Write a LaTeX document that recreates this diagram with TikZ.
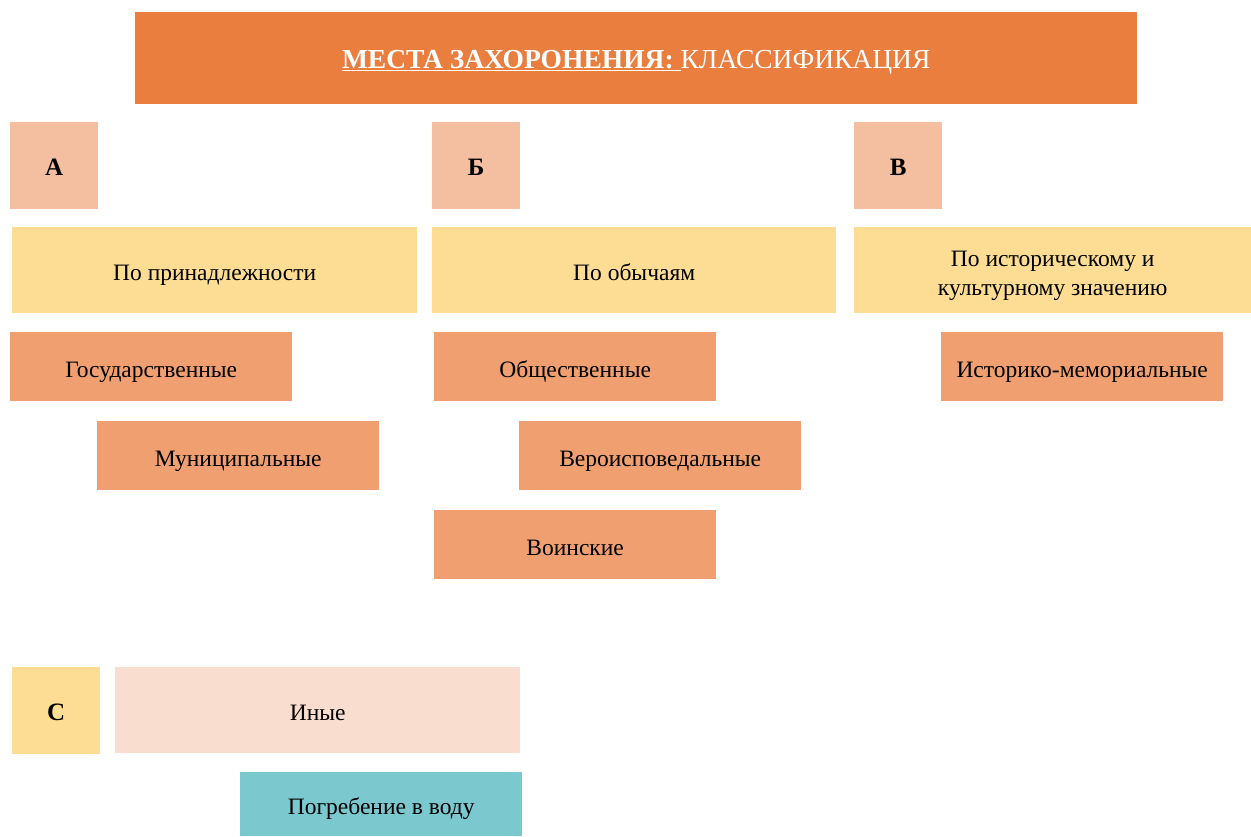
\documentclass[tikz,border=0pt]{standalone}
\usepackage{fontspec}
\setmainfont{Liberation Serif}

\definecolor{titleorange}{RGB}{233,126,62}
\definecolor{letterpink}{RGB}{244,190,160}
\definecolor{groupyellow}{RGB}{253,220,147}
\definecolor{typeorange}{RGB}{240,160,112}
\definecolor{otherpink}{RGB}{249,222,207}
\definecolor{waterteal}{RGB}{123,200,207}

\begin{document}
\begin{tikzpicture}[x=1pt, y=-1pt,
  box/.style 2 args={anchor=north west, inner sep=0pt, align=center,
    minimum width=#1pt, minimum height=#2pt, text height=21.5pt, text depth=0pt,
    font=\fontsize{23.5}{29}\selectfont},
  letter/.style={box={88}{87}, fill=letterpink, text height=19.5pt,
    font=\fontsize{25}{30}\selectfont\bfseries},
  group/.style={box={#1}{86}, fill=groupyellow},
  kind/.style={box={282}{69}, fill=typeorange}]
\useasboundingbox (0,0) rectangle (1251,836);

% header
\node [box={1002}{92}, fill=titleorange, text=white, text height=21pt,
  font=\fontsize{27.5}{32}\selectfont]
  (title) at (135,12) {\underline{\textbf{МЕСТА ЗАХОРОНЕНИЯ:}\ }КЛАССИФИКАЦИЯ};

% letters
\node [letter] (la) at (10,122) {А};
\node [letter] (lb) at (432,122) {Б};
\node [letter] (lv) at (854,122) {В};

% groups
\node [group=405] (own) at (12,227) {По принадлежности};
\node [group=404] (custom) at (432,227) {По обычаям};
\node [group=397, text height=51.4pt] (hist) at (854,227) {По историческому и\\культурному значению};

% kinds
\node [kind] (state) at (10,332) {Государственные};
\node [kind] (muni) at (97,421) {Муниципальные};
\node [kind] (public) at (434,332) {Общественные};
\node [kind] (relig) at (519,421) {Вероисповедальные};
\node [kind] (war) at (434,510) {Воинские};
\node [kind] (memo) at (941,332) {Историко-мемориальные};

% other
\node [letter, fill=groupyellow] (lc) at (12,667) {С};
\node [box={405}{86}, fill=otherpink] (other) at (115,667) {Иные};
\node [box={282}{64}, fill=waterteal] (water) at (240,772) {Погребение в воду};
\end{tikzpicture}
\end{document}
